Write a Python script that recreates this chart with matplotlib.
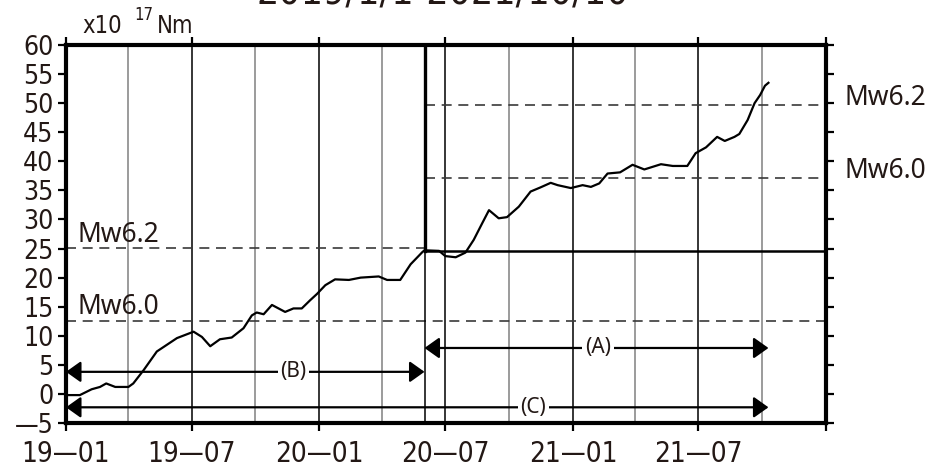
import matplotlib
matplotlib.use("Agg")
import matplotlib.pyplot as plt
import matplotlib.transforms as mtransforms
from matplotlib import font_manager as fm
from datetime import datetime

# cumulative seismic moment, x10^17 Nm
dates = ["2019-01-01", "2019-01-21", "2019-02-07", "2019-02-19", "2019-02-28",
         "2019-03-13", "2019-04-01", "2019-04-08", "2019-04-23", "2019-05-12",
         "2019-06-10", "2019-07-04", "2019-07-16", "2019-07-28", "2019-08-11",
         "2019-08-28", "2019-09-14", "2019-09-26", "2019-10-03", "2019-10-13",
         "2019-10-25", "2019-11-13", "2019-11-25", "2019-12-07", "2019-12-19",
         "2019-12-29", "2020-01-10", "2020-01-24", "2020-02-13", "2020-03-01",
         "2020-03-27", "2020-04-08", "2020-04-27", "2020-05-12", "2020-05-29",
         "2020-06-01", "2020-06-22", "2020-07-01", "2020-07-16", "2020-07-30",
         "2020-08-11", "2020-08-23", "2020-09-02", "2020-09-16", "2020-09-28",
         "2020-10-15", "2020-11-01", "2020-11-15", "2020-11-30", "2020-12-10",
         "2020-12-29", "2021-01-15", "2021-01-27", "2021-02-08", "2021-02-20",
         "2021-03-10", "2021-03-28", "2021-04-14", "2021-05-08", "2021-05-25",
         "2021-06-15", "2021-06-27", "2021-07-12", "2021-07-28", "2021-08-08",
         "2021-08-22", "2021-08-29", "2021-09-10", "2021-09-20", "2021-09-28",
         "2021-10-05", "2021-10-10"]
moment = [-0.2, -0.2, 0.8, 1.2, 1.8,
          1.2, 1.2, 1.8, 4.1, 7.3,
          9.6, 10.7, 9.8, 8.2, 9.4,
          9.7, 11.3, 13.5, 14.0, 13.7,
          15.3, 14.1, 14.7, 14.7, 16.1,
          17.2, 18.7, 19.7, 19.6, 20.0,
          20.2, 19.6, 19.6, 22.3, 24.4,
          24.7, 24.6, 23.7, 23.5, 24.3,
          26.5, 29.3, 31.6, 30.2, 30.4,
          32.2, 34.8, 35.5, 36.3, 35.9,
          35.4, 35.9, 35.6, 36.2, 37.9,
          38.1, 39.4, 38.6, 39.5, 39.2,
          39.2, 41.4, 42.4, 44.2, 43.5,
          44.2, 44.7, 47.1, 50.0, 51.4,
          53.0, 53.5]

start_date = "2019-01-01"
end_date = "2021-10-10"
event_date = "2020-06-01"
axis_end = "2022-01-01"

base_level = 24.6       # moment at event date
mw62 = 25.1             # Mw6.2 in x10^17 Nm
mw60 = 12.6             # Mw6.0 in x10^17 Nm

xtick_dates = ["2019-01-01", "2019-07-01", "2020-01-01", "2020-07-01",
               "2021-01-01", "2021-07-01", "2022-01-01"]
xtick_labels = ["19\u201401", "19\u201407", "20\u201401", "20\u201407",
                "21\u201401", "21\u201407", ""]
minor_dates = ["2019-04-01", "2019-10-01", "2020-04-01", "2020-10-01",
               "2021-04-01", "2021-10-01"]
yticks = list(range(-5, 61, 5))
ytick_labels = ["\u2014" + str(-v) if v < 0 else str(v) for v in yticks]

spans = [("(B)", start_date, event_date, 3.8, "2019-11-25"),
         ("(A)", event_date, end_date, 7.9, "2021-02-06"),
         ("(C)", start_date, end_date, -2.3, "2020-11-05")]


def d(s):
    return datetime.strptime(s, "%Y-%m-%d")


def pick_narrow():
    # look for any condensed / narrow sans face that is installed
    prefs = ["Liberation Sans Narrow", "DejaVu Sans", "Noto Sans", "Open Sans",
             "Roboto Condensed", "Roboto", "Lato", "Inter"]
    cands = []
    for f in fm.fontManager.ttflist:
        st = str(f.stretch).lower()
        narrowish = ("condensed" in st or "narrow" in f.name.lower()
                     or "condensed" in f.name.lower()
                     or (st.isdigit() and int(st) < 500))
        if not narrowish or f.style != "normal":
            continue
        w = f.weight if isinstance(f.weight, int) else 400
        if str(f.weight) in ("normal", "regular", "400", "book", "medium", "500"):
            w = 400
        if w > 500:
            continue
        rank = prefs.index(f.name) if f.name in prefs else len(prefs)
        cands.append((rank, f.fname))
    if cands:
        cands.sort()
        return cands[0][1]
    return None


narrow_file = pick_narrow()


def nfont(size):
    if narrow_file:
        return fm.FontProperties(fname=narrow_file, size=size)
    return fm.FontProperties(family="Liberation Sans", size=size * 0.88)


ink = "#231815"
plain = ["Noto Sans", "DejaVu Sans"]

W, H = 935, 471
fig = plt.figure(figsize=(W / 100, H / 100), dpi=100)
ax = fig.add_axes([66 / W, 1 - 423 / H, 760 / W, 378 / H])

x = [d(s) for s in dates]
ax.set_xlim(d(start_date), d(axis_end))
ax.set_ylim(-5, 60)

# vertical grid
for s in xtick_dates[1:-1]:
    ax.axvline(d(s), color="black", lw=1.1, zorder=1)
for s in minor_dates:
    ax.axvline(d(s), color="#8a8a8a", lw=1.2, zorder=1)

dash = (0, (6, 4))
ev = d(event_date)
ax.plot([d(start_date), ev], [mw62, mw62], color="#3a3a3a", lw=1.2, ls=dash, zorder=2)
ax.plot([d(start_date), d(axis_end)], [mw60, mw60], color="#3a3a3a", lw=1.2, ls=dash, zorder=2)
ax.plot([ev, d(axis_end)], [base_level + mw62] * 2, color="#3a3a3a", lw=1.2, ls=dash, zorder=2)
ax.plot([ev, d(axis_end)], [base_level + mw60] * 2, color="#3a3a3a", lw=1.2, ls=dash, zorder=2)

ax.axvline(ev, color="black", lw=1.1, zorder=3)
ax.plot([ev, ev], [base_level, 60], color="black", lw=2.4, zorder=3)
ax.plot([ev, d(axis_end)], [base_level, base_level], color="black", lw=1.8, zorder=3)

ax.plot(x, moment, color="black", lw=1.6, zorder=4)

# range arrows
for label, a, b, yv, lx in spans:
    ax.annotate("", xy=(d(b), yv), xytext=(d(a), yv),
                arrowprops=dict(arrowstyle="<|-|>,head_length=0.45,head_width=0.32",
                                color="black", lw=1.6, mutation_scale=20,
                                shrinkA=0, shrinkB=0), zorder=5)
    ax.text(d(lx), yv, label, ha="center", va="center", fontsize=15,
            family=plain, color=ink, zorder=6,
            bbox=dict(facecolor="white", edgecolor="none", pad=2))

# Mw labels
ax.text(d("2019-01-17"), mw62 + 1.1, "Mw6.2", fontsize=19, family=plain,
        color=ink, va="baseline", ha="left", zorder=6)
ax.text(d("2019-01-17"), mw60 + 1.1, "Mw6.0", fontsize=19, family=plain,
        color=ink, va="baseline", ha="left", zorder=6)
tr = mtransforms.blended_transform_factory(ax.transAxes, ax.transData)
ax.text(1.025, base_level + mw62, "Mw6.2", transform=tr, fontsize=19,
        family=plain, color=ink, va="baseline", ha="left", clip_on=False)
ax.text(1.025, base_level + mw60, "Mw6.0", transform=tr, fontsize=19,
        family=plain, color=ink, va="baseline", ha="left", clip_on=False)

ax.set_xticks([d(s) for s in xtick_dates])
ax.set_xticklabels(xtick_labels, fontproperties=nfont(20), color=ink)
ax.set_yticks(yticks)
ax.set_yticklabels(ytick_labels, fontproperties=nfont(19), color=ink)
ax.tick_params(axis="both", direction="out", length=6, width=1.6, pad=3)
ax.tick_params(axis="x", pad=6)
ax.tick_params(top=True, right=True, labelright=False, labeltop=False)
for sp in ax.spines.values():
    sp.set_linewidth(3)
    sp.set_zorder(7)

# unit label and (clipped) title
fig.text(82 / W, 1 - 33 / H, "x10", fontproperties=nfont(17), color=ink, va="baseline")
fig.text(134 / W, 1 - 20 / H, "17", fontproperties=nfont(12), color=ink, va="baseline")
fig.text(157 / W, 1 - 33 / H, "Nm", fontproperties=nfont(17), color=ink, va="baseline")
fig.text(443 / W, 1 - 4 / H, "2019/1/1-2021/10/10", fontproperties=nfont(28),
         color=ink, va="baseline", ha="center")

fig.savefig("out.png", dpi=100)
